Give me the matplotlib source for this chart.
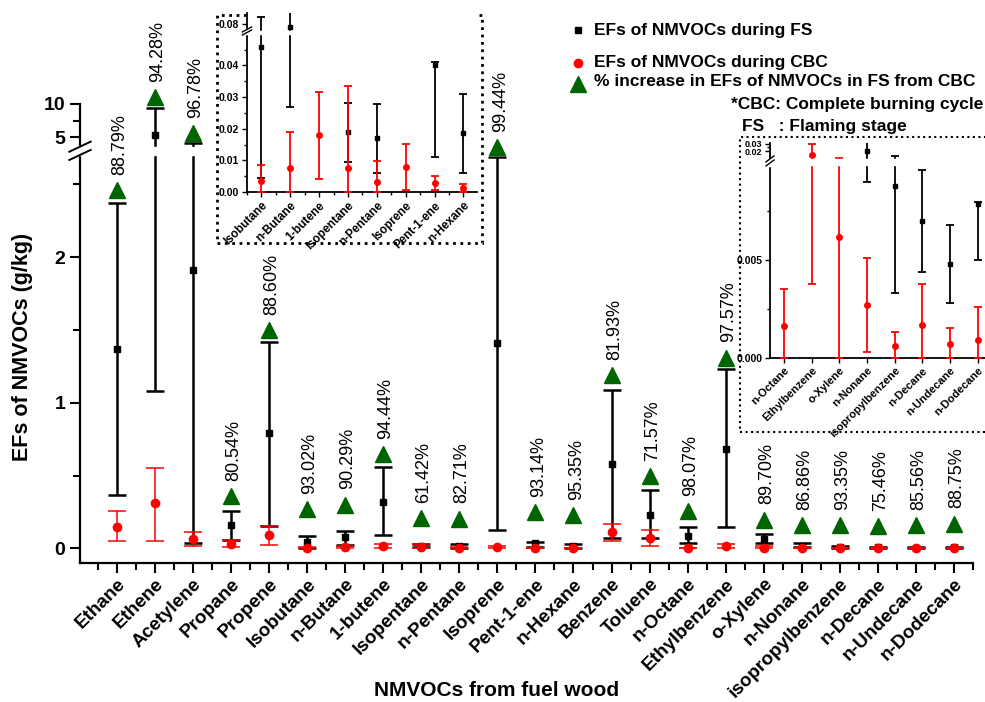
import numpy as np
import matplotlib
matplotlib.use('Agg')
import matplotlib.pyplot as plt
from matplotlib.lines import Line2D
from matplotlib.patches import Rectangle

plt.rcParams['font.family'] = ['Liberation Sans', 'DejaVu Sans']
plt.rcParams['font.weight'] = 'bold'

# NMVOC species
compounds = ['Ethane', 'Ethene', 'Acetylene', 'Propane', 'Propene', 'Isobutane',
             'n-Butane', '1-butene', 'Isopentane', 'n-Pentane', 'Isoprene',
             'Pent-1-ene', 'n-Hexane', 'Benzene', 'Toluene', 'n-Octane',
             'Ethylbenzene', 'o-Xylene', 'n-Nonane', 'isopropylbenzene',
             'n-Decane', 'n-Undecane', 'n-Dodecane']

# EFs during flaming stage (g/kg): mean, lower and upper end of error bar
fs_mean = [1.37, 5.3, 1.91, 0.158, 0.79, 0.0458, 0.078, 0.32, 0.019, 0.0171, 1.41,
           0.040, 0.0187, 0.577, 0.23, 0.085, 0.68, 0.067, 0.020, 0.0088,
           0.0070, 0.0048, 0.0079]
fs_low = [0.364, 1.08, 0.035, 0.055, 0.155, 0.0044, 0.027, 0.09, 0.0096, 0.0061, 0.13,
          0.0112, 0.0061, 0.07, 0.07, 0.04, 0.145, 0.04, 0.0090, 0.0033,
          0.0044, 0.0028, 0.0050]
fs_high = [2.37, 9.4, 4.07, 0.26, 1.416, 0.084, 0.12, 0.556, 0.0283, 0.0278, 2.69,
           0.041, 0.031, 1.086, 0.40, 0.146, 1.23, 0.10, 0.036, 0.016,
           0.0096, 0.0068, 0.0080]

# EFs during complete burning cycle (g/kg)
cbc_mean = [0.15, 0.31, 0.062, 0.03, 0.09, 0.0035, 0.0077, 0.018, 0.0075, 0.0031, 0.008,
            0.0029, 0.0012, 0.11, 0.075, 0.0016, 0.017, 0.0062, 0.0027, 0.0006,
            0.0017, 0.0007, 0.0009]
cbc_low = [0.048, 0.05, 0.015, 0.01, 0.025, 0.0, 0.0, 0.0041, 0.0, 0.0, 0.0005,
           0.0006, 0.0, 0.05, 0.015, 0.0, 0.0038, 0.0, 0.0003, 0.0,
           0.0, 0.0, 0.0]
cbc_high = [0.254, 0.555, 0.11, 0.055, 0.155, 0.0085, 0.0189, 0.0316, 0.0336, 0.0099, 0.0151,
            0.0052, 0.0024, 0.165, 0.125, 0.0035, 0.029, 0.0149, 0.0051, 0.0013,
            0.0038, 0.0015, 0.0026]

# % increase markers and labels
pct_labels = ['88.79%', '94.28%', '96.78%', '80.54%', '88.60%', '93.02%', '90.29%',
              '94.44%', '61.42%', '82.71%', '99.44%', '93.14%', '95.35%', '81.93%',
              '71.57%', '98.07%', '97.57%', '89.70%', '86.86%', '93.35%', '75.46%',
              '85.56%', '88.75%']
tri_pos = [2.46, 11.06, 5.6, 0.357, 1.5, 0.27, 0.30, 0.65, 0.21, 0.205, 3.49, 0.25,
           0.227, 1.19, 0.495, 0.256, 1.31, 0.197, 0.158, 0.158, 0.151, 0.158, 0.17]

inset1_idx = list(range(5, 13))
inset2_idx = list(range(15, 23))

GREEN = '#006400'
W, H = 985, 702


def broken_scale(lo_end, up_start, f_up_start, slope):
    # piecewise linear mapping used for the broken y axes
    xp = [-1.0, lo_end, up_start, up_start + 100.0]
    fp = [-1.0, lo_end, f_up_start, f_up_start + 100.0 * slope]
    return (lambda v: np.interp(v, xp, fp)), (lambda f: np.interp(f, fp, xp))


def box(x0, y0, x1, y1):
    # pixel box -> figure fraction rect
    return [x0 / W, 1 - y1 / H, (x1 - x0) / W, (y1 - y0) / H]


def draw_break(ax, y_lo, y_hi, dx, lines, lw):
    ax.add_patch(Rectangle((-dx, y_lo), 2 * dx, y_hi - y_lo, transform=ax.transAxes,
                           color='white', clip_on=False, zorder=6))
    for (ya, yb) in lines:
        ax.add_line(Line2D([-dx, dx], [ya, yb], transform=ax.transAxes, color='black',
                           lw=lw, clip_on=False, zorder=7))


def draw_bars(ax, idx, ms_s, ms_o, cap, lw_k, lw_r):
    x = np.arange(len(idx))
    m = np.array([fs_mean[i] for i in idx])
    lo = np.array([fs_low[i] for i in idx])
    hi = np.array([fs_high[i] for i in idx])
    ax.errorbar(x, m, yerr=[m - lo, hi - m], fmt='s', color='black', ms=ms_s,
                capsize=cap, elinewidth=lw_k, capthick=lw_k, zorder=3)
    m = np.array([cbc_mean[i] for i in idx])
    lo = np.array([cbc_low[i] for i in idx])
    hi = np.array([cbc_high[i] for i in idx])
    ax.errorbar(x, m, yerr=[m - lo, hi - m], fmt='o', color='red', ms=ms_o,
                capsize=cap, elinewidth=lw_r, capthick=lw_r, zorder=4)


fig = plt.figure(figsize=(9.85, 7.02), dpi=100)

# ---------------- main axes ----------------
ax = fig.add_axes(box(80, 104, 973, 563))
fwd, inv = broken_scale(2.72, 4.0, 2.78, 0.04536)
ax.set_yscale('function', functions=(fwd, inv))
draw_bars(ax, range(len(compounds)), 5, 6, 6.5, 1.8, 1.1)
ax.axhspan(2.70, 3.5, color='white', zorder=3.5)
xi = np.arange(len(compounds))
ax.plot(xi, tri_pos, '^', color=GREEN, ms=11, zorder=8, clip_on=False, ls='none')
for i, lbl in enumerate(pct_labels):
    ax.annotate(lbl, (i, tri_pos[i]), xytext=(2, 11), textcoords='offset points',
                rotation=90, ha='center', va='bottom', fontsize=13,
                fontweight='normal', annotation_clip=False, zorder=9)

ax.set_xlim(-0.97, 22.47)
ax.set_ylim(-0.1, 10)
ax.set_yticks([0, 1, 2, 5, 10])
ax.set_yticklabels(['0', '1', '2', '5', '10'])
ax.set_yticks([0.5, 1.5, 2.5, 7.5], minor=True)
ax.set_xticks(xi)
ax.set_xticklabels(compounds, rotation=45, ha='right', rotation_mode='anchor')
ax.set_xticks(np.arange(-0.5, 22.6, 1.0), minor=True)
ax.tick_params(axis='both', which='major', direction='out', length=7, width=1.5,
               labelsize=14)
ax.tick_params(axis='x', labelsize=13.6, pad=2)
ax.tick_params(axis='both', which='minor', direction='out', length=5, width=1.5)
for s in ['top', 'right']:
    ax.spines[s].set_visible(False)
for s in ['left', 'bottom']:
    ax.spines[s].set_linewidth(1.6)
draw_break(ax, 0.889, 0.908, 0.012, [(0.878, 0.900), (0.896, 0.918)], 1.4)

fig.text(23 / W, 1 - 347 / H, 'EFs of NMVOCs (g/kg)', rotation=90, ha='center',
         va='center', fontsize=15.5)
fig.text(497 / W, 1 - 690 / H, 'NMVOCs from fuel wood', ha='center', va='center',
         fontsize=15)

# ---------------- inset 1 ----------------
fig.add_artist(Rectangle((217 / W, 1 - 243 / H), 265 / W, 228 / H, fill=False,
                         ls=':', lw=2, transform=fig.transFigure, zorder=9))
a1 = fig.add_axes(box(247, 13, 477, 192), zorder=10)
f1, i1 = broken_scale(0.0500, 0.0760, 0.0510, 0.56)
a1.set_yscale('function', functions=(f1, i1))
draw_bars(a1, inset1_idx, 3.5, 4, 3, 1.3, 1.3)
a1.axhspan(0.0500, 0.0760, color='white', zorder=5)
a1.set_xlim(-0.375, 7.47)
a1.set_ylim(0, 0.086)
a1.set_yticks([0, 0.01, 0.02, 0.03, 0.04, 0.08])
a1.set_yticklabels(['0.00', '0.01', '0.02', '0.03', '0.04', '0.08'])
a1.set_yticks([0.005, 0.015, 0.025, 0.035, 0.045], minor=True)
a1.set_xticks(range(8))
a1.set_xticklabels([compounds[i] for i in inset1_idx], rotation=45, ha='right',
                   rotation_mode='anchor')
a1.set_xticks(np.arange(-0.5, 7.5, 1.0), minor=True)
a1.tick_params(which='major', direction='out', length=3.5, width=1, labelsize=7.5, pad=2)
a1.tick_params(axis='x', labelsize=8.5)
a1.tick_params(which='minor', direction='out', length=2.5, width=1)
for s in ['top', 'right']:
    a1.spines[s].set_visible(False)
for s in ['left', 'bottom']:
    a1.spines[s].set_linewidth(1.3)
draw_break(a1, 0.885, 0.912, 0.02, [(0.877, 0.905), (0.894, 0.922)], 1.0)

# ---------------- inset 2 ----------------
fig.add_artist(Rectangle((740 / W, 1 - 432 / H), 250 / W, 295 / H, fill=False,
                         ls=':', lw=1.5, transform=fig.transFigure, zorder=9))
a2 = fig.add_axes(box(770, 143, 991.6, 357.7), zorder=10)
f2, i2 = broken_scale(0.0099, 0.019, 0.01055, 0.038)
a2.set_yscale('function', functions=(f2, i2))
draw_bars(a2, inset2_idx, 3.5, 4, 3, 1.3, 1.3)
a2.axhspan(0.0099, 0.0137, color='white', zorder=5)
a2.set_xlim(-0.505, 7.5)
a2.set_ylim(0, 0.031)
a2.set_yticks([0, 0.005, 0.02, 0.03])
a2.set_yticklabels(['0.000', '0.005', '0.02', '0.03'])
a2.set_yticks([0.0025, 0.0075, 0.025], minor=True)
a2.set_xticks(range(8))
a2.set_xticklabels([compounds[i] for i in inset2_idx], rotation=45, ha='right',
                   rotation_mode='anchor')
a2.tick_params(which='major', direction='out', length=3.5, width=1, labelsize=7.5, pad=2)
a2.tick_params(axis='x', labelsize=8)
a2.tick_params(which='minor', direction='out', length=2.5, width=1)
for t in a2.get_yticklabels()[2:]:
    t.set_fontsize(6.5)
for s in ['top', 'right']:
    a2.spines[s].set_visible(False)
for s in ['left', 'bottom']:
    a2.spines[s].set_linewidth(1.3)
draw_break(a2, 0.895, 0.925, 0.018, [(0.893, 0.921), (0.912, 0.940)], 1.0)

# ---------------- legend ----------------
leg_x, txt_x = 578, 594
fig.add_artist(Line2D([leg_x / W], [1 - 30 / H], marker='s', color='black', ms=5,
                      transform=fig.transFigure))
fig.add_artist(Line2D([leg_x / W], [1 - 63 / H], marker='o', color='red', ms=6,
                      transform=fig.transFigure))
fig.add_artist(Line2D([leg_x / W], [1 - 84 / H], marker='^', color=GREEN, ms=11,
                      transform=fig.transFigure))
fig.text(txt_x / W, 1 - 30 / H, 'EFs of NMVOCs during FS', va='center', fontsize=12.5)
fig.text(txt_x / W, 1 - 63 / H, 'EFs of NMVOCs during CBC', va='center', fontsize=12.5)
fig.text(txt_x / W, 1 - 82 / H, '% increase in EFs of NMVOCs in FS from CBC',
         va='center', fontsize=12.5)
fig.text(983 / W, 1 - 104 / H, '*CBC: Complete burning cycle', ha='right',
         va='center', fontsize=12.5)
fig.text(742 / W, 1 - 127 / H, 'FS   : Flaming stage', va='center', fontsize=12.5)

fig.savefig('out.png', dpi=100)
